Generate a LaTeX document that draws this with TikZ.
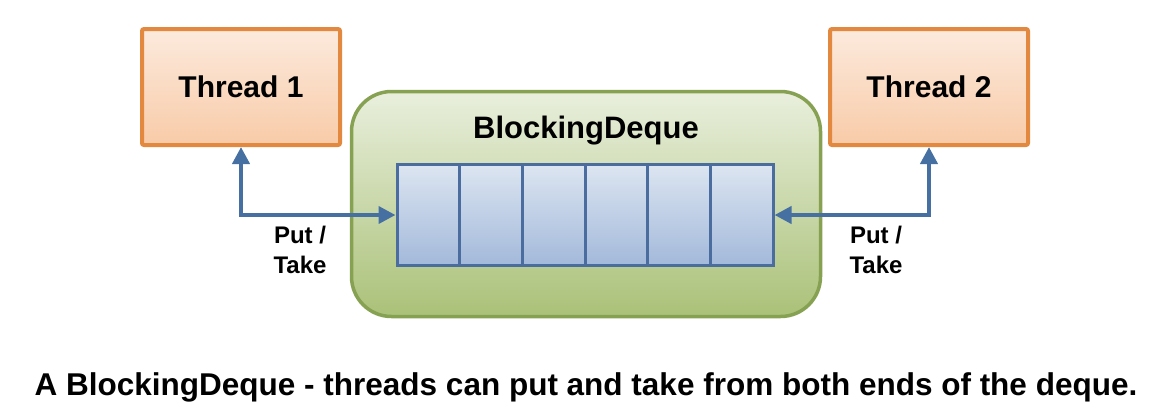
\documentclass[tikz,border=0pt]{standalone}
\usepackage{fontspec}
\setmainfont{Liberation Sans}
\usetikzlibrary{arrows.meta}
\definecolor{threadline}{HTML}{E2883F}
\definecolor{threadtop}{HTML}{FCEADD}
\definecolor{threadbot}{HTML}{F8CBA8}
\definecolor{dequeline}{HTML}{86A152}
\definecolor{dequetop}{HTML}{E9EFDD}
\definecolor{dequebot}{HTML}{AAC178}
\definecolor{cellline}{HTML}{4A6C9E}
\definecolor{celltop}{HTML}{DCE5F1}
\definecolor{cellbot}{HTML}{A3B9DA}
\definecolor{linkblue}{HTML}{4670A2}
\tikzset{
  thread/.style={draw=threadline, line width=4pt, rounded corners=2pt,
    top color=threadtop, bottom color=threadbot,
    minimum width=198pt, minimum height=116pt, inner sep=0pt,
    font=\bfseries\fontsize{30}{36}\selectfont},
  dequebox/.style={draw=dequeline, line width=3.5pt, rounded corners=40pt,
    top color=dequetop, bottom color=dequebot,
    minimum width=469pt, minimum height=225pt, inner sep=0pt},
  cell/.style={draw=cellline, line width=3pt,
    top color=celltop, bottom color=cellbot,
    minimum width=62.67pt, minimum height=101pt, inner sep=0pt},
  title/.style={anchor=base, inner sep=0pt, font=\bfseries\fontsize{31}{36}\selectfont},
  putake/.style={anchor=base, align=center, inner sep=0pt,
    font=\bfseries\fontsize{24}{30}\selectfont},
  link/.style={draw=linkblue, line width=4pt,
    {Triangle[length=17pt,width=17pt]}-{Triangle[length=17pt,width=17pt]}},
  caption/.style={anchor=base, inner sep=0pt, font=\bfseries\fontsize{31.5}{36}\selectfont}
}
\begin{document}
\begin{tikzpicture}[x=1pt,y=-1pt]
\useasboundingbox (0,0) rectangle (1156,416);
\newcommand{\cellw}{62.67}
\newcommand{\dqleft}{397}
% the deque with its cells
\node[dequebox] (deque) at (586,204) {};
\node[title] (title) at (586,138) {BlockingDeque};
\foreach \i in {1,...,6}
  \node[cell] (cell\i) at ({\dqleft+(\i-0.5)*\cellw},215) {};
% the two threads
\node[thread] (thread1) at (241,87) {Thread 1};
\node[thread] (thread2) at (929,87) {Thread 2};
\draw[link] (thread1.south) |- (cell1.west);
\draw[link] (thread2.south) |- (cell6.east);
\node[putake] (lput) at (300,273) {Put /\\Take};
\node[putake] (rput) at (876,273) {Put /\\Take};
\node[caption] (caption) at (586,395) {A BlockingDeque - threads can put and take from both ends of the deque.};
\end{tikzpicture}
\end{document}
